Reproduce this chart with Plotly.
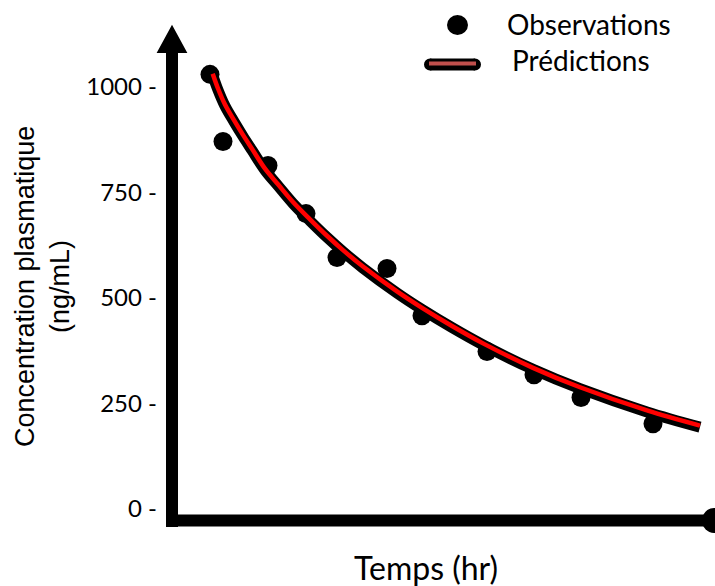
import plotly.graph_objects as go

# ---- data ----
obs_time = [1.9, 2.55, 4.8, 6.7, 8.25, 10.75, 12.5, 15.75, 18.1, 20.45, 24.05]
obs_conc = [1030, 871, 814, 700, 596, 570, 458, 373, 318, 264, 202]

pred_time = [2.035, 2.3, 2.65, 3.1, 3.55, 4.0, 4.65, 5.3, 6.05, 6.9, 7.75,
             8.55, 9.55, 11.25, 12.5, 14.0, 15.55, 18.05, 20.4, 23.75, 26.4]
pred_conc = [1028, 993, 955, 918, 883, 850, 803, 766, 724, 683, 644,
             610, 571, 512, 473, 430, 389, 331, 285, 230, 194]

y_tick_vals = [0, 250, 500, 750, 1000]
y_tick_text = ["0 -", "250 -", "500 -", "750 -", "1000 -"]

legend_labels = ["Observations", "Prédictions"]
x_title = "Temps (hr)"
y_title = "Concentration plasmatique<br>(ng/mL)"

# ---- geometry ----
W, H = 715, 586
ML, MR, MT, MB = 172, 5, 30, 66
PW, PH = W - ML - MR, H - MT - MB
X_RANGE = [0, 26.9]
Y_RANGE = [-26.07, 1135.1]
RED_SHIFT = 3.5


def fx(p):
    return (p - ML) / PW


def fy(p):
    return 1 - (p - MT) / PH


fig = go.Figure()
fig.add_trace(go.Scatter(x=obs_time, y=obs_conc, mode="markers",
                         marker=dict(size=19, color="black"),
                         name=legend_labels[0], showlegend=False))
fig.add_trace(go.Scatter(x=pred_time, y=pred_conc, mode="lines",
                         line=dict(color="black", width=11, shape="spline"),
                         name=legend_labels[1], showlegend=False))
fig.add_trace(go.Scatter(x=pred_time, y=pred_conc, mode="lines", yaxis="y2",
                         line=dict(color="#ff0000", width=4.5, shape="spline"),
                         name=legend_labels[1], showlegend=False))

shapes = []
# y axis line + arrow head
shapes.append(dict(type="line", xref="paper", yref="paper",
                   x0=fx(172), x1=fx(172), y0=fy(527), y1=fy(45),
                   line=dict(color="black", width=12)))
shapes.append(dict(type="path", xref="paper", yref="paper",
                   path=f"M {fx(172)} {fy(29)} L {fx(160)} {fy(51)} L {fx(184)} {fy(51)} Z",
                   fillcolor="black", line=dict(color="black", width=4)))
# x axis line + end blob
shapes.append(dict(type="line", xref="paper", yref="paper",
                   x0=fx(166), x1=fx(708), y0=fy(520.5), y1=fy(520.5),
                   line=dict(color="black", width=12)))
shapes.append(dict(type="circle", xref="paper", yref="paper",
                   x0=fx(702), x1=fx(726), y0=fy(508), y1=fy(533),
                   fillcolor="black", line=dict(color="black", width=0)))
# legend symbols
shapes.append(dict(type="circle", xref="paper", yref="paper",
                   x0=fx(447), x1=fx(468), y0=fy(15), y1=fy(35),
                   fillcolor="black", line=dict(color="black", width=0)))
shapes.append(dict(type="line", xref="paper", yref="paper",
                   x0=fx(430), x1=fx(475), y0=fy(64.5), y1=fy(64.5),
                   line=dict(color="black", width=12)))
for cx in (430, 475):
    shapes.append(dict(type="circle", xref="paper", yref="paper",
                       x0=fx(cx - 6), x1=fx(cx + 6), y0=fy(58.5), y1=fy(70.5),
                       fillcolor="black", line=dict(color="black", width=0)))
shapes.append(dict(type="line", xref="paper", yref="paper",
                   x0=fx(429), x1=fx(476), y0=fy(63.5), y1=fy(63.5),
                   line=dict(color="#c0504d", width=4)))

annotations = [
    dict(text=legend_labels[0], xref="paper", yref="paper", x=fx(505), y=fy(24),
         xanchor="left", yanchor="middle", showarrow=False,
         font=dict(family="Lato", size=28, color="black")),
    dict(text=legend_labels[1], xref="paper", yref="paper", x=fx(510), y=fy(60),
         xanchor="left", yanchor="middle", showarrow=False,
         font=dict(family="Lato", size=28, color="black")),
    dict(text=x_title, xref="paper", yref="paper", x=fx(426), y=fy(567),
         xanchor="center", yanchor="middle", showarrow=False,
         font=dict(family="Lato", size=32, color="black")),
    dict(text=y_title, xref="paper", yref="paper", x=fx(42), y=fy(287),
         xanchor="center", yanchor="middle", showarrow=False, textangle=-90,
         font=dict(family="Liberation Sans, Arial", size=27, color="black")),
]

fig.update_layout(
    width=W, height=H,
    margin=dict(l=ML, r=MR, t=MT, b=MB),
    plot_bgcolor="white", paper_bgcolor="white",
    showlegend=False,
    xaxis=dict(range=X_RANGE, showgrid=False, zeroline=False,
               showticklabels=False, showline=False, ticks=""),
    yaxis=dict(range=Y_RANGE, tickvals=y_tick_vals, ticktext=y_tick_text,
               showgrid=False, zeroline=False, showline=False, ticks="",
               ticklabelstandoff=14,
               tickfont=dict(family="Lato", size=24, color="black")),
    yaxis2=dict(range=[Y_RANGE[0] - RED_SHIFT, Y_RANGE[1] - RED_SHIFT],
                overlaying="y", visible=False),
    shapes=shapes,
    annotations=annotations,
)

fig.write_html("out.html")
